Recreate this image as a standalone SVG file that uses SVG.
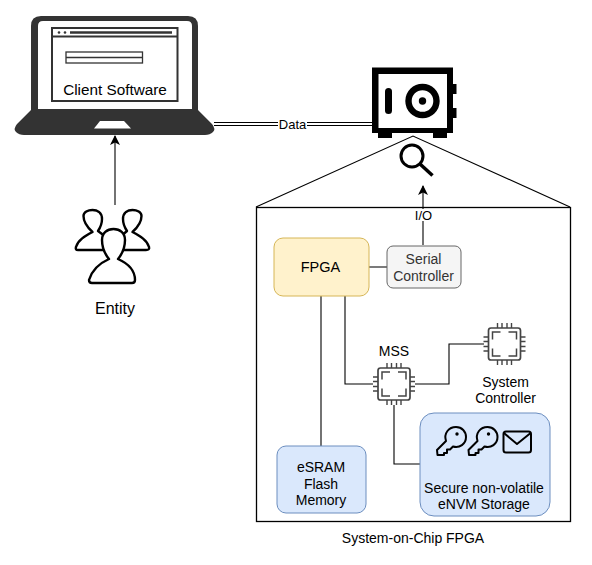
<svg xmlns="http://www.w3.org/2000/svg" width="592" height="565" viewBox="0 0 592 565">
<style>
text{font-family:"Liberation Sans",Arial,sans-serif;font-size:14px;text-anchor:middle;fill:#000}
.s13{font-size:13px}
.line{fill:none;stroke:#000;stroke-width:1.100}
.soft{fill:none;stroke:#333;stroke-width:1.300}
.grey{fill:#f5f5f5;stroke:#666;stroke-width:1}
.person{fill:#fff;stroke:#000;stroke-width:2.400;stroke-linejoin:round}
.icon{fill:none;stroke:#000;stroke-width:2;stroke-linejoin:round;stroke-linecap:round}
.chip{fill:none;stroke:#444;stroke-width:1.400}
</style>
<defs>
<marker id="arrow" markerWidth="12" markerHeight="12" refX="9" refY="5" orient="auto" markerUnits="userSpaceOnUse"><path d="M0 0L10 5L0 10L2.500 5Z" fill="#000"/></marker>
<g id="chipIcon">
<path class="chip" style="stroke-width:1.700" d="M-13.500 -16H13.500Q16 -16 16 -13.500V13.500Q16 16 13.500 16H-13.500Q-16 16 -16 13.500V-13.500Q-16 -16 -13.500 -16Z"/>
<path class="chip" style="stroke-width:1.500" d="M-12 -4.500V-12H-4M4 -12H12V-4.500M12 4.500V12H4M-4 12H-12V4.500"/>
<path class="chip" d="M-7 -16V-21M-2.500 -16V-21M2.500 -16V-21M7 -16V-21M-7 16V21M-2.500 16V21M2.500 16V21M7 16V21M-16 -7H-21M-16 -2.500H-21M-16 2.500H-21M-16 7H-21M16 -7H21M16 -2.500H21M16 2.500H21M16 7H21"/>
</g>
<g id="keyIcon">
<path class="icon" d="M-2 -1C-4.500 -9 1 -15 8 -15C14 -15 18 -10.500 18 -5C18 2 11.500 6.500 5 4.500L2 7.500H-1V11H-4V13H-10.500L-11 8Z"/>
<circle cx="9" cy="-8" r="1.700" fill="#000"/>
</g>
</defs>

<g id="connectors">
<path class="line" d="M214 122.500H373M214 125.500H373"/>
<rect x="278" y="118" width="29" height="12" fill="#fff"/>
<text class="s13" x="292.500" y="128.500">Data</text>
<path class="line" d="M115 205V136" marker-end="url(#arrow)"/>
<path class="line" d="M423 245V186" marker-end="url(#arrow)"/>
<rect x="413" y="209" width="21" height="12" fill="#fff"/>
<text class="s13" x="423.500" y="219.500">I/O</text>
<path class="soft" d="M369 267H387"/>
<path class="line" d="M321 296V446"/>
<path class="line" d="M345 296V384H373"/>
<path class="line" d="M415 384H449V344H484"/>
<path class="line" d="M394 405V464H420"/>
</g>

<g id="client-laptop">
<path d="M31 110V26Q31 16 41 16H188Q198 16 198 26V110L212 124Q216 129 213 132Q210 135 205 135H24Q19 135 16 132Q13 129 17 124Z" fill="#333"/>
<path d="M38 109V26Q38 21 43 21H187Q192 21 192 26V109Z" fill="#fff"/>
<path d="M100 121H124L131 128.500H94Z" fill="#fff"/>
<rect x="52" y="28" width="125.500" height="73" fill="#fff" stroke="#333" stroke-width="2"/>
<path d="M52 36.500H177" stroke="#333" stroke-width="2"/>
<circle cx="59" cy="32.500" r="1.300" fill="#333"/>
<circle cx="65" cy="32.500" r="1.300" fill="#333"/>
<path d="M70 32.500H172" stroke="#333" stroke-width="2.500"/>
<rect x="66" y="52" width="76.500" height="11" fill="#fff" stroke="#333" stroke-width="1.300"/>
<path d="M66 57.500H142" stroke="#333" stroke-width="1.300"/>
<text x="115" y="95" style="font-size:15.300px">Client Software</text>
</g>

<g id="safe">
<path d="M372 67.500H453V84H456.500V94H453V108H456.500V118H453V133H447V138H433V133H392V138H378V133H372Z" fill="#000"/>
<rect x="378.500" y="74" width="68.500" height="54" fill="#fff"/>
<rect x="385" y="88" width="7" height="26" rx="3.500" fill="#000"/>
<circle cx="422.500" cy="101" r="14" fill="none" stroke="#000" stroke-width="6.400"/>
<circle cx="422.500" cy="101" r="3.700" fill="#000"/>
</g>

<g id="magnifier">
<circle cx="412" cy="156" r="11" fill="none" stroke="#000" stroke-width="3"/>
<path d="M420 164L432.500 175.500" stroke="#000" stroke-width="3.500"/>
</g>

<g id="system-on-chip">
<path class="line" d="M256 207L413 136L570 207"/>
<rect x="256.500" y="207.500" width="314" height="314" fill="none" stroke="#000" stroke-width="1.300"/>
<text x="413" y="543">System-on-Chip FPGA</text>
</g>

<g id="entity">
<path class="person" d="M106 250H78Q75 250 76 247C78 240 85 236 92.500 232C87 227 83.500 221 83.500 216C83.500 212 88 210 92.500 210C97 210 102 212 102 219C102 224 100 228 98 231L106 237Z"/>
<path class="person" d="M120 250H146Q150 250 149 247C147 240 140 236 132.500 232C138 227 141.500 221 141.500 216C141.500 212 137 210 132.500 210C128 210 123 212 123 219C123 224 125 228 127 231L120 237Z"/>
<path class="person" d="M92 283C90 283 89 282 89 280C92 270 100 263 109 259C104 253 102 247 102 240C102 233 107 229 113.500 229C120 229 125 233 125 240C125 247 123 253 118 259C127 263 135 270 135 280C135 282 134 283 132 283Z"/>
<text x="115" y="314" style="font-size:16px">Entity</text>
</g>

<g id="fpga">
<rect x="274" y="238" width="95" height="58" rx="9" fill="#fff2cc" stroke="#d6b656"/>
<text x="320.500" y="272" style="font-size:14.500px">FPGA</text>
</g>

<g id="serial-controller">
<rect class="grey" x="387" y="246" width="74" height="42" rx="6"/>
<text x="423.500" y="264" style="fill:#333">Serial</text>
<text x="423.500" y="281" style="fill:#333">Controller</text>
</g>

<g id="mss">
<text x="394" y="356">MSS</text>
<use href="#chipIcon" x="394" y="384"/>
</g>

<g id="system-controller">
<use href="#chipIcon" x="504.500" y="344"/>
<text x="505.500" y="387">System</text>
<text x="505.500" y="403">Controller</text>
</g>

<g id="esram">
<rect x="277" y="446" width="89" height="67" rx="9" fill="#dae8fc" stroke="#6c8ebf"/>
<text x="321" y="472">eSRAM</text>
<text x="321" y="489">Flash</text>
<text x="321" y="505">Memory</text>
</g>

<g id="envm-storage">
<rect x="420" y="413" width="130" height="103" rx="14" fill="#dae8fc" stroke="#6c8ebf"/>
<use href="#keyIcon" x="448" y="442"/>
<use href="#keyIcon" x="479.500" y="442"/>
<rect x="503.500" y="431.500" width="27.500" height="21" rx="2.500" class="icon"/>
<path class="icon" d="M504.500 433.500L517 444L530 433.500"/>
<text x="484" y="493">Secure non-volatile</text>
<text x="484" y="509">eNVM Storage</text>
</g>
</svg>
